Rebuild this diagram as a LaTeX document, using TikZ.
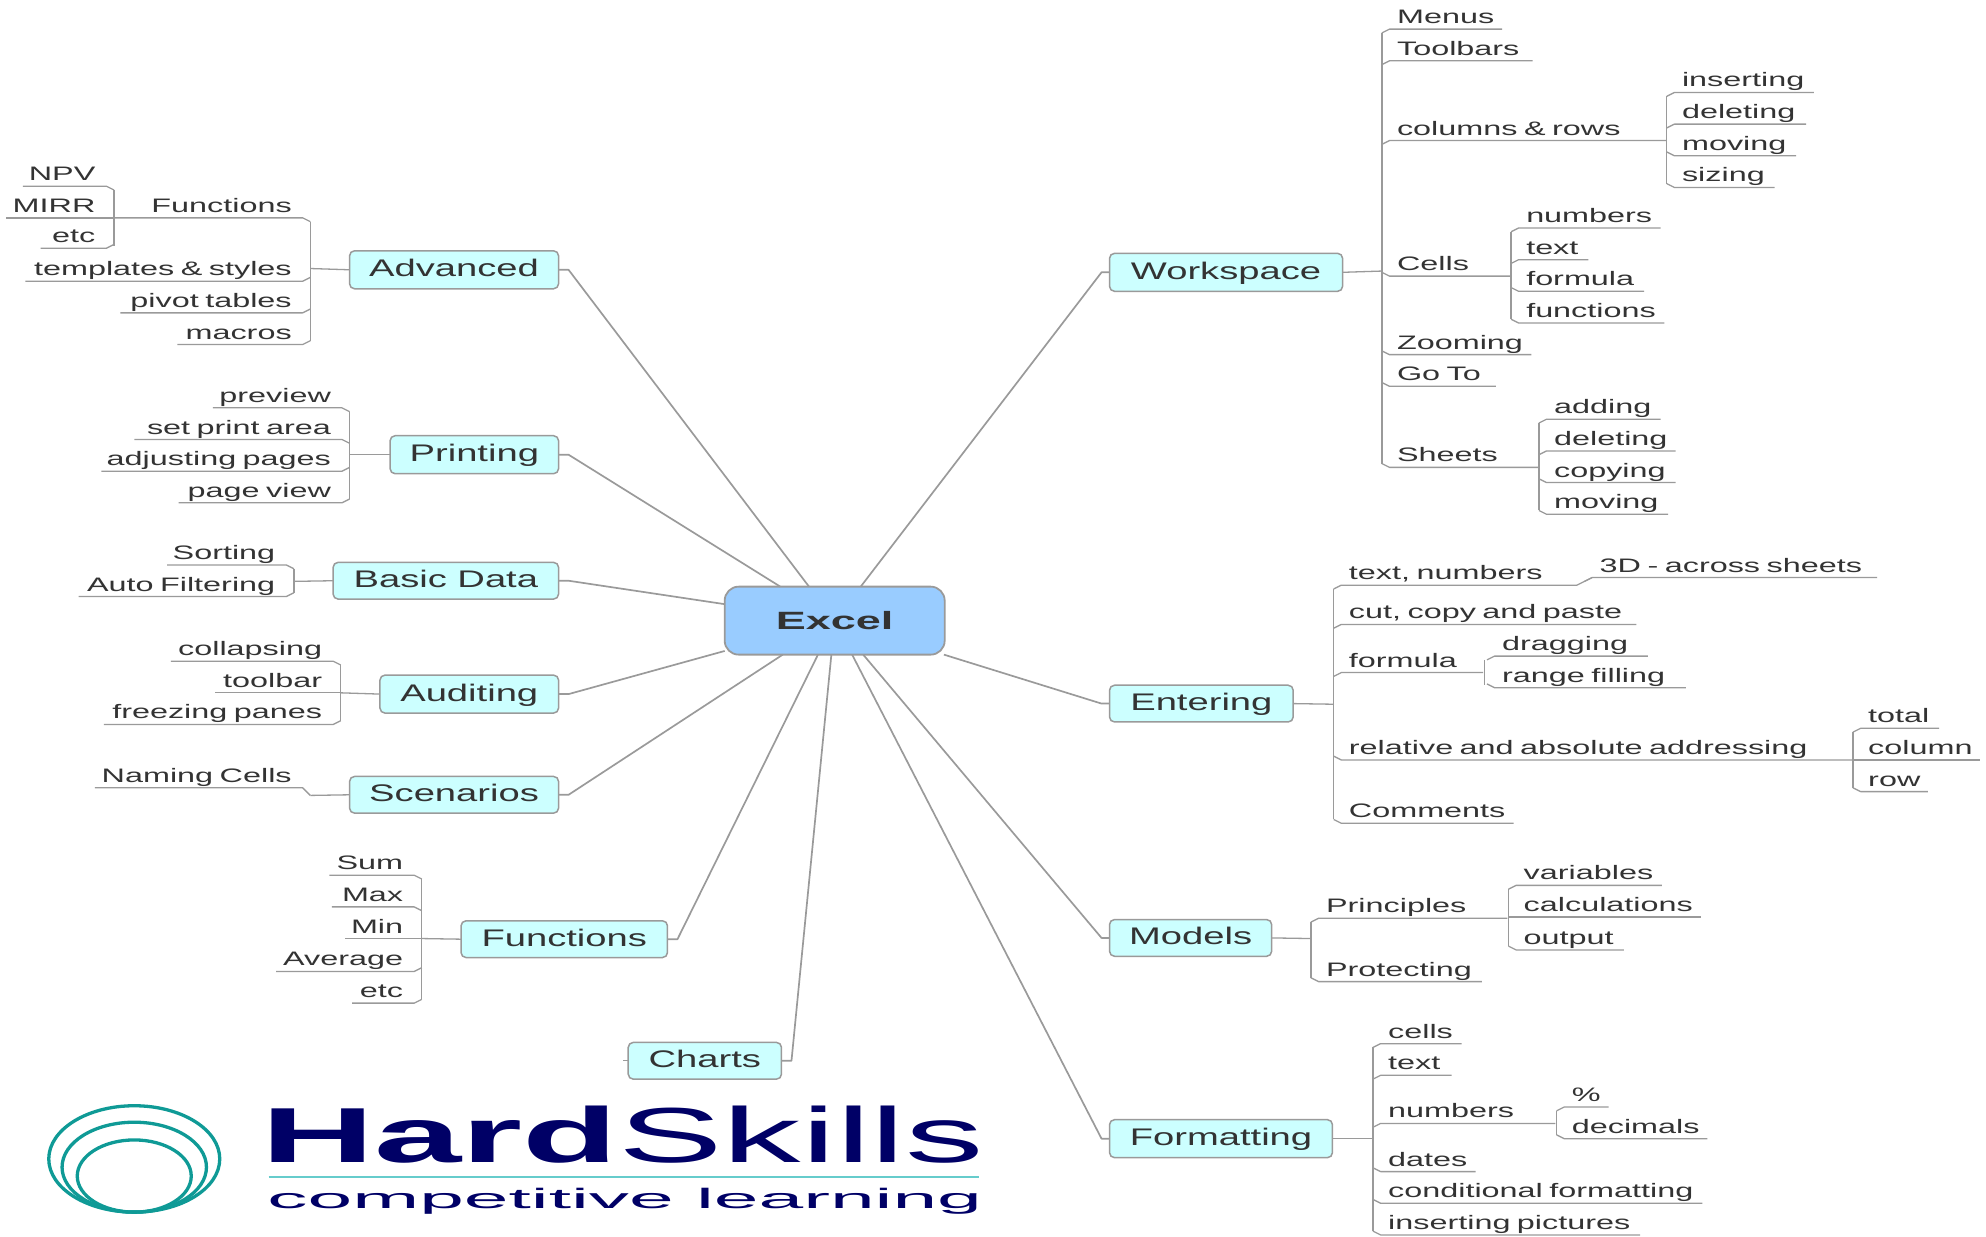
\documentclass[tikz,border=0pt]{standalone}
\usepackage{fontspec}
\setmainfont{Liberation Sans}
\newfontfamily\leaffam[FakeStretch=1.66]{Liberation Sans}
\newfontfamily\branchfam[FakeStretch=1.59]{Liberation Sans}
\newfontfamily\headfam[FakeStretch=1.8]{Liberation Sans Bold}
\newfontfamily\logofam[FakeStretch=2.01]{Liberation Sans}
\newfontfamily\logobold[FakeStretch=2.01]{Liberation Sans Bold}
\newfontfamily\subfam[FakeStretch=2.87]{Liberation Sans}
\definecolor{linkgray}{HTML}{9A9A9A}
\definecolor{txt}{HTML}{333333}
\definecolor{branchfill}{HTML}{CCFFFF}
\definecolor{rootfill}{HTML}{99CCFF}
\definecolor{navy}{HTML}{000066}
\definecolor{teal2}{HTML}{0F9A96}
\definecolor{rule2}{HTML}{66CCCC}
\tikzset{
  linkline/.style={draw=linkgray,line width=1.3pt,line join=round},
  mainline/.style={draw=linkgray,line width=1.7pt,line join=round},
  leafnode/.style={inner xsep=0pt,inner ysep=5.5pt,outer sep=0pt,text depth=0pt,text=txt,font=\leaffam\fontsize{19.5}{21}\selectfont},
  branchnode/.style={draw=linkgray,fill=branchfill,rounded corners=5pt,line width=1.5pt,inner sep=0pt,outer sep=0pt,text=txt,text height=17pt,text depth=3pt,font=\branchfam\fontsize{24}{26}\selectfont},
  rootnode/.style={draw=linkgray,fill=rootfill,rounded corners=14pt,line width=1.8pt,inner sep=0pt,outer sep=0pt,text=txt,font=\headfam\fontsize{25}{27}\selectfont},
}
% right-hand leaf: name, spine x, line y, line end x, text, sign of the joint
\newcommand\RL[6]{%
  \pgfmathsetlengthmacro\lw{(#4-#2-6)*1.2666}%
  \node[leafnode,anchor=south west,text width=\lw,align=left] (#1) at (#2+6,#3) {\mbox{\hspace{7.6pt}#5}};
  \draw[linkline] (#2,#3+#6*3) -- (#1.south west) -- (#1.south east);
}
% left-hand leaf: name, spine x, line y, line start x, text, sign of the joint
\newcommand\LL[6]{%
  \pgfmathsetlengthmacro\lw{(#2-6-#4)*1.2666}%
  \node[leafnode,anchor=south east,text width=\lw,align=right] (#1) at (#2-6,#3) {\mbox{#5\hspace{11pt}}};
  \draw[linkline] (#2,#3+#6*3) -- (#1.south east) -- (#1.south west);
}
\newcommand\BR[6]{%
  \pgfmathsetlengthmacro\bw{(#4-#2)*1.2666}%
  \pgfmathsetlengthmacro\bh{(#5-#3)*1.2666}%
  \node[branchnode,minimum width=\bw,minimum height=\bh] (#1) at ({(#2+#4)/2},{(#3+#5)/2}) {#6\hspace{7pt}};
}
% spine: name, x, top y, bottom y, y of the joint
\newcommand\SP[5]{%
  \coordinate (#1T) at (#2,#3);
  \coordinate (#1B) at (#2,#4);
  \coordinate (#1) at (#2,#5);
  \draw[linkline] (#1T) -- (#1B);
}
\begin{document}
\begin{tikzpicture}[x=1.2666pt,y=-1.2666pt]
\useasboundingbox (0,0) rectangle (1568,975.9);
% root
\node[rootnode,minimum width=220pt,minimum height=68pt] (excel) at (659,490) {Excel\hspace{10pt}};
% branches
\BR{advanced}{276}{198}{441}{228}{Advanced}
\BR{printing}{308}{344}{441}{374}{Printing}
\BR{basic}{263}{444}{441}{473}{Basic Data}
\BR{auditing}{300}{533}{441}{563}{Auditing}
\BR{scenarios}{276}{613}{441}{642}{Scenarios}
\BR{functions}{364}{727}{527}{756}{Functions}
\BR{charts}{496}{823}{617}{852}{Charts}
\BR{workspace}{876}{200}{1060}{230}{Workspace}
\BR{entering}{876}{541}{1021}{570}{Entering}
\BR{models}{876}{726}{1004}{755}{Models}
\BR{formatting}{876}{884}{1052}{914}{Formatting}
% main connectors
\foreach \b in {advanced,printing,basic,auditing,scenarios,functions,charts}
  \draw[mainline] (excel) -- ([xshift=10pt]\b.east) -- (\b.east);
\foreach \b in {workspace,entering,models,formatting}
  \draw[mainline] (excel) -- ([xshift=-8pt]\b.west) -- (\b.west);
\coordinate (chartsTick) at ([xshift=-5pt]charts.west);
\draw[linkline] (charts.west) -- (chartsTick);
% Workspace
\SP{wsS}{1091}{26}{366}{214}
\draw[linkline] (workspace.east) -- (wsS);
\RL{menus}{1091}{23}{1186}{Menus}{1}
\RL{toolbars}{1091}{48}{1210}{Toolbars}{1}
\RL{colrows}{1091}{111}{1316}{columns \& rows}{1}
\RL{cells}{1091}{218}{1192}{Cells}{-1}
\RL{zooming}{1091}{280}{1209}{Zooming}{-1}
\RL{goto}{1091}{305}{1181}{Go To}{-1}
\RL{sheets}{1091}{369}{1215}{Sheets}{-1}
\SP{crS}{1316}{76}{145}{111}
\RL{inserting}{1316}{73}{1432}{inserting}{1}
\RL{deleting}{1316}{98}{1426}{deleting}{1}
\RL{moving}{1316}{123}{1418}{moving}{-1}
\RL{sizing}{1316}{148}{1401}{sizing}{-1}
\SP{ceS}{1193}{183}{252}{218}
\RL{numbers}{1193}{180}{1311}{numbers}{1}
\RL{celltext}{1193}{205}{1254}{text}{1}
\RL{formula}{1193}{230}{1298}{formula}{-1}
\RL{cellfunc}{1193}{255}{1314}{functions}{-1}
\SP{shS}{1215}{334}{403}{369}
\RL{adding}{1215}{331}{1311}{adding}{1}
\RL{shdel}{1215}{356}{1323}{deleting}{1}
\RL{copying}{1215}{381}{1323}{copying}{-1}
\RL{shmove}{1215}{406}{1317}{moving}{-1}
% Entering
\SP{enS}{1053}{465}{647}{556}
\draw[linkline] (entering.east) -- (enS);
\RL{textnum}{1053}{462}{1245}{text, numbers}{1}
\RL{cutcopy}{1053}{493}{1292}{cut, copy and paste}{1}
\RL{enformula}{1053}{531}{1171}{formula}{1}
\RL{relative}{1053}{600}{1463}{relative and absolute addressing}{-1}
\RL{comments}{1053}{650}{1195}{Comments}{-1}
\RL{threeD}{1251}{456}{1482}{3D - across sheets}{1}
\draw[linkline] (textnum.south east) -- (threeD.south west);
\SP{foS}{1172}{521}{541}{531}
\RL{dragging}{1174}{518}{1301}{dragging}{1}
\RL{range}{1174}{543}{1331}{range filling}{-1}
\SP{reS}{1463}{578}{622}{600}
\RL{total}{1463}{575}{1531}{total}{1}
\RL{column}{1463}{600}{1563}{column}{0}
\RL{row}{1463}{625}{1522}{row}{-1}
% Models
\SP{moS}{1035}{728}{772}{741}
\draw[linkline] (models.east) -- (moS);
\RL{principles}{1035}{725}{1190}{Principles}{1}
\RL{protecting}{1035}{775}{1170}{Protecting}{-1}
\SP{prS}{1191}{702}{747}{725}
\RL{variables}{1191}{699}{1312}{variables}{1}
\RL{calcs}{1191}{724}{1343}{calculations}{0}
\RL{output}{1191}{750}{1282}{output}{-1}
% Formatting
\SP{fmS}{1084}{827}{972}{899}
\draw[linkline] (formatting.east) -- (fmS);
\RL{fcells}{1084}{824}{1154}{cells}{1}
\RL{ftext}{1084}{849}{1146}{text}{1}
\RL{fnumbers}{1084}{887}{1228}{numbers}{1}
\RL{dates}{1084}{925}{1165}{dates}{-1}
\RL{conditional}{1084}{950}{1344}{conditional formatting}{-1}
\RL{pictures}{1084}{975}{1295}{inserting pictures}{-1}
\SP{nuS}{1229}{877}{896}{887}
\RL{percent}{1229}{874}{1270}{\%}{1}
\RL{decimals}{1229}{899}{1348}{decimals}{-1}
% Advanced
\SP{adS}{245}{175}{269}{212}
\draw[linkline] (advanced.west) -- (adS);
\LL{afunc}{245}{172}{90}{Functions}{1}
\LL{templates}{245}{222}{20}{templates \& styles}{-1}
\LL{pivot}{245}{247}{95}{pivot tables}{-1}
\LL{macros}{245}{272}{140}{macros}{-1}
\SP{afS}{90}{150}{194}{172}
\LL{npv}{90}{147}{18}{NPV}{1}
\LL{mirr}{90}{172}{5}{MIRR}{0}
\LL{aetc}{90}{196}{32}{etc}{-1}
% Printing
\SP{piS}{276}{325}{394}{359}
\draw[linkline] (printing.west) -- (piS);
\LL{preview}{276}{322}{168}{preview}{1}
\LL{setarea}{276}{347}{106}{set print area}{1}
\LL{adjust}{276}{372}{80}{adjusting pages}{-1}
\LL{pageview}{276}{397}{141}{page view}{-1}
% Basic data
\SP{baS}{232}{449}{468}{459}
\draw[linkline] (basic.west) -- (baS);
\LL{sorting}{232}{446}{132}{Sorting}{1}
\LL{filtering}{232}{471}{62}{Auto Filtering}{-1}
% Auditing
\SP{auS}{269}{525}{569}{547}
\draw[linkline] (auditing.west) -- (auS);
\LL{collapsing}{269}{522}{135}{collapsing}{1}
\LL{toolbar}{269}{547}{170}{toolbar}{0}
\LL{freezing}{269}{572}{82}{freezing panes}{-1}
% Scenarios
\LL{naming}{245}{622}{75}{Naming Cells}{2}
\draw[linkline] (scenarios.west) -- (245,628);
% Functions
\SP{fuS}{333}{694}{789}{741}
\draw[linkline] (functions.west) -- (fuS);
\LL{sum}{333}{691}{260}{Sum}{1}
\LL{maxn}{333}{716}{262}{Max}{1}
\LL{minn}{333}{741}{272}{Min}{0}
\LL{average}{333}{767}{218}{Average}{-1}
\LL{fetc}{333}{792}{278}{etc}{-1}
% logo
\draw[teal2,line width=3.3pt] (106,915) ellipse (67.5 and 42);
\draw[teal2,line width=3.3pt] (106,921.5) ellipse (57 and 35.5);
\draw[teal2,line width=3.3pt] (106,928.5) ellipse (45 and 28.5);
\node[anchor=base west,inner sep=0pt,text=navy] (logoword) at (206,918) {\fontsize{78}{80}\selectfont{\logobold Hard}{\logofam Skills}};
\node[anchor=base west,inner sep=0pt,text=navy] (logosub) at (211,954) {\subfam\fontsize{28}{30}\selectfont competitive learning};
\coordinate (ruleL) at (212,929);
\coordinate (ruleR) at (773,929);
\draw[rule2,line width=2pt] (ruleL) -- (ruleR);
\end{tikzpicture}
\end{document}
